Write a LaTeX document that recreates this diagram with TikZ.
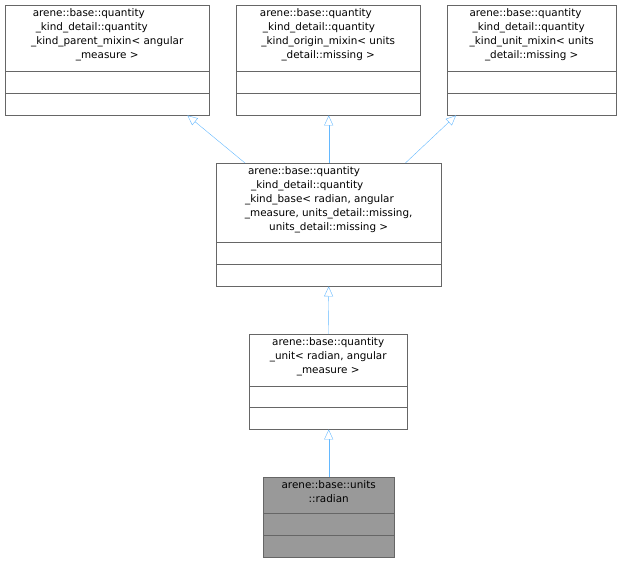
\documentclass[tikz,border=0pt]{standalone}
\usepackage{fontspec}
\setmainfont{DejaVu Sans}
\usetikzlibrary{arrows.meta, positioning}
\definecolor{edge}{RGB}{99,184,255}
\definecolor{frame}{RGB}{102,102,102}
\definecolor{leaf}{RGB}{153,153,153}

\tikzset{
  cls/.style={draw=frame, fill=white, anchor=north west, inner sep=0pt},
  title/.style={align=center, inner sep=0pt, font=\fontsize{10.4}{14}\selectfont},
  inh/.style={draw=edge, -{Triangle[open, length=10pt, width=9pt, fill=white]}},
}

\begin{document}
\begin{tikzpicture}[x=1pt, y=-1pt]
\useasboundingbox (0,0) rectangle (623,563);

\node (parent_mixin) [cls, minimum width=204pt, minimum height=110pt] at (5,5) {};
\node (parent_text) [title, below=3pt of parent_mixin.north] {arene::base::quantity\hphantom{xxxxxx}\\\_kind\_detail::quantity\hphantom{xxxxx}\\\_kind\_parent\_mixin< angular\\\_measure >};
\draw[frame] ([yshift=-66pt]parent_mixin.north west) -- ([yshift=-66pt]parent_mixin.north east);
\draw[frame] ([yshift=-88pt]parent_mixin.north west) -- ([yshift=-88pt]parent_mixin.north east);

\node (origin_mixin) [cls, minimum width=184pt, minimum height=110pt] at (236,5) {};
\node (origin_text) [title, below=3pt of origin_mixin.north] {arene::base::quantity\hphantom{xxxx}\\\_kind\_detail::quantity\hphantom{xxx}\\\_kind\_origin\_mixin< units\\\_detail::missing >};
\draw[frame] ([yshift=-66pt]origin_mixin.north west) -- ([yshift=-66pt]origin_mixin.north east);
\draw[frame] ([yshift=-88pt]origin_mixin.north west) -- ([yshift=-88pt]origin_mixin.north east);

\node (unit_mixin) [cls, minimum width=169pt, minimum height=110pt] at (447,5) {};
\node (unit_text) [title, below=3pt of unit_mixin.north] {arene::base::quantity\hphantom{xx}\\\_kind\_detail::quantity\hphantom{x}\\\_kind\_unit\_mixin< units\\\_detail::missing >};
\draw[frame] ([yshift=-66pt]unit_mixin.north west) -- ([yshift=-66pt]unit_mixin.north east);
\draw[frame] ([yshift=-88pt]unit_mixin.north west) -- ([yshift=-88pt]unit_mixin.north east);

\node (kind_base) [cls, minimum width=225pt, minimum height=123pt] at (216,163) {};
\node (base_text) [title, below=3pt of kind_base.north] {arene::base::quantity\hphantom{xxxxxxxx}\\\_kind\_detail::quantity\hphantom{xxxxxxx}\\\_kind\_base< radian, angular\hphantom{xxx}\\\_measure, units\_detail::missing,\\units\_detail::missing >};
\draw[frame] ([yshift=-79pt]kind_base.north west) -- ([yshift=-79pt]kind_base.north east);
\draw[frame] ([yshift=-101pt]kind_base.north west) -- ([yshift=-101pt]kind_base.north east);

\node (quantity_unit) [cls, minimum width=158pt, minimum height=95pt] at (249,334) {};
\node (unit_text2) [title, below=3pt of quantity_unit.north] {arene::base::quantity\\\_unit< radian, angular\\\_measure >};
\draw[frame] ([yshift=-52pt]quantity_unit.north west) -- ([yshift=-52pt]quantity_unit.north east);
\draw[frame] ([yshift=-73pt]quantity_unit.north west) -- ([yshift=-73pt]quantity_unit.north east);

\node (radian) [cls, fill=leaf, minimum width=131pt, minimum height=80pt] at (263,477) {};
\node (radian_text) [title, below=3pt of radian.north] {arene::base::units\\::radian};
\draw[frame] ([yshift=-36pt]radian.north west) -- ([yshift=-36pt]radian.north east);
\draw[frame] ([yshift=-58pt]radian.north west) -- ([yshift=-58pt]radian.north east);

\draw[inh] ([xshift=29pt]kind_base.north west) -- ([xshift=-22pt]parent_mixin.south east);
\draw[inh] (kind_base.north) -- (kind_base.north |- origin_mixin.south);
\draw[inh] ([xshift=-36pt]kind_base.north east) -- ([xshift=9pt]unit_mixin.south west);
\draw[inh] (quantity_unit.north) -- (kind_base.south);
\draw[inh] (radian.north) -- (radian.north |- quantity_unit.south);
\end{tikzpicture}
\end{document}
